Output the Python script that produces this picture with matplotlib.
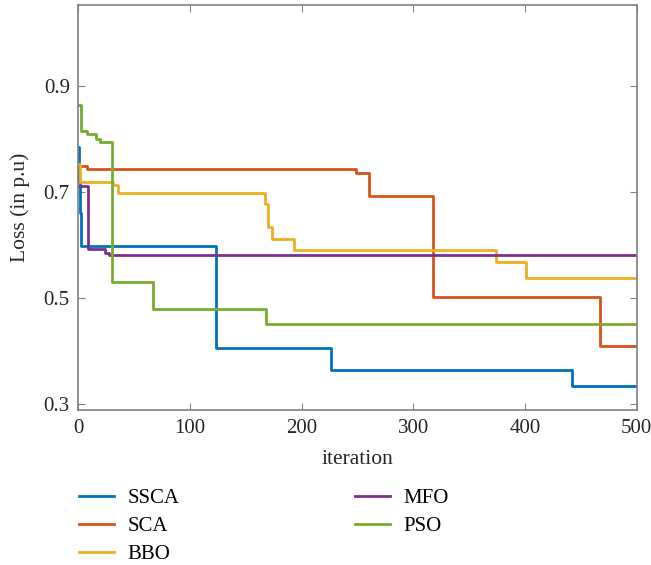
import matplotlib
matplotlib.use("Agg")
import matplotlib.pyplot as plt

plt.rcParams['font.family'] = ['Liberation Serif', 'DejaVu Serif']

names = ["SSCA", "SCA", "BBO", "MFO", "PSO"]
colors = ["#0072BD", "#D95319", "#EDB120", "#7E2F8E", "#77AC30"]

ssca_x = [0, 1, 2, 3, 123, 226, 442, 500]
ssca_y = [0.785, 0.72, 0.66, 0.598, 0.406, 0.365, 0.335, 0.335]

sca_x = [0, 8, 249, 260, 318, 467, 500]
sca_y = [0.749, 0.743, 0.736, 0.692, 0.502, 0.41, 0.41]

bbo_x = [0, 2, 31, 36, 167, 170, 174, 193, 374, 401, 500]
bbo_y = [0.753, 0.718, 0.714, 0.699, 0.678, 0.634, 0.611, 0.590, 0.568, 0.538, 0.538]

mfo_x = [0, 9, 24, 28, 500]
mfo_y = [0.712, 0.593, 0.585, 0.582, 0.581]

pso_x = [0, 3, 8, 16, 20, 30, 67, 168, 500]
pso_y = [0.864, 0.815, 0.810, 0.800, 0.795, 0.530, 0.479, 0.4515, 0.4515]

series = [(ssca_x, ssca_y), (sca_x, sca_y), (bbo_x, bbo_y), (mfo_x, mfo_y), (pso_x, pso_y)]

fig = plt.figure(figsize=(6.51, 5.65), dpi=100)
ax = fig.add_axes([0.12, 0.274, 0.858, 0.717])

for (xs, ys), name, c in zip(series, names, colors):
    ax.plot(xs, ys, drawstyle='steps-post', color=c, lw=2, label=name)

ax.set_xlim(0, 500)
ax.set_ylim(0.289, 1.052)
ax.set_xticks([0, 100, 200, 300, 400, 500])
ax.set_yticks([0.3, 0.5, 0.7, 0.9])
ax.set_yticklabels(["0.3", "0.5", "0.7", "0.9"])
ax.tick_params(direction='in', top=True, right=True, labelsize=15, colors='#808080',
               labelcolor='#262626', length=5, pad=6)
for s in ax.spines.values():
    s.set_color('#808080')
    s.set_linewidth(1.2)
ax.set_xlabel("iteration", fontsize=15.5, color='#262626', labelpad=9)
ax.set_ylabel("Loss (in p.u)", fontsize=15.5, color='#262626', labelpad=10)

handles, labels = ax.get_legend_handles_labels()
fig.legend(handles, labels, loc='upper left', bbox_to_anchor=(0.092, 0.168), ncol=2,
           frameon=False, fontsize=15, handlelength=1.7, handletextpad=0.65,
           columnspacing=8.4, labelspacing=0.4)

fig.savefig("out.png", dpi=100)
